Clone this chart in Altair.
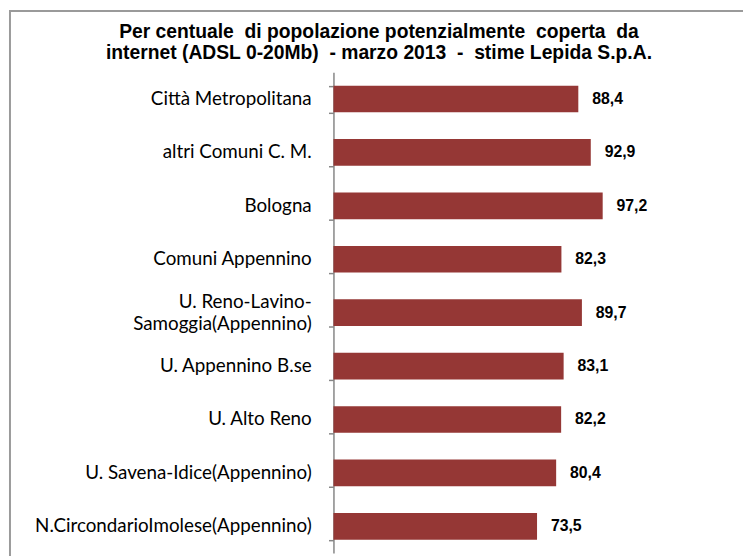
import altair as alt
import pandas as pd

categories = [
    "Città Metropolitana",
    "altri Comuni C. M.",
    "Bologna",
    "Comuni Appennino",
    "U. Reno-Lavino-|Samoggia(Appennino)",
    "U. Appennino B.se",
    "U. Alto Reno",
    "U. Savena-Idice(Appennino)",
    "N.CircondarioImolese(Appennino)",
]
values = [88.4, 92.9, 97.2, 82.3, 89.7, 83.1, 82.2, 80.4, 73.5]

NB = "\u00a0"
title_lines = [
    f"Per centuale {NB}di popolazione potenzialmente {NB}coperta {NB}da",
    f"internet (ADSL 0-20Mb) {NB}- marzo 2013 {NB}- {NB}stime Lepida S.p.A.",
]

df = pd.DataFrame({"cat": categories, "val": values})

BAR = "#953735"
AXIS = "#868686"

y_enc = alt.Y(
    "cat:N",
    sort=categories,
    title=None,
    scale=alt.Scale(paddingInner=0.5, paddingOuter=0.25),
    axis=alt.Axis(
        labels=False,
        tickBand="extent",
        tickSize=5,
        tickColor=AXIS,
        tickWidth=1.5,
        domainColor=AXIS,
        domainWidth=1.5,
        grid=False,
    ),
)
y_plain = alt.Y("cat:N", sort=categories)
x_enc = alt.X("val:Q", scale=alt.Scale(domain=[0, 100]), axis=None)

bars = alt.Chart(df).mark_bar(color=BAR).encode(x=x_enc, y=y_enc)

labels = (
    alt.Chart(df)
    .transform_calculate(lbl="replace(format(datum.val, '.1f'), '.', ',')")
    .mark_text(
        align="left",
        baseline="middle",
        dx=14,
        font="Liberation Sans",
        fontSize=16,
        fontWeight="bold",
        color="#000000",
    )
    .encode(x="val:Q", y=y_plain, text="lbl:N")
)

cat_style = dict(
    align="right",
    baseline="middle",
    font="Lato",
    fontSize=19,
    lineHeight=23,
    color="#000000",
)
cat_single = (
    alt.Chart(df)
    .transform_filter("indexof(datum.cat, '|') < 0")
    .mark_text(**cat_style)
    .encode(x=alt.value(-22), y=y_plain, text="cat:N")
)
cat_multi = (
    alt.Chart(df)
    .transform_filter("indexof(datum.cat, '|') >= 0")
    .transform_calculate(lines="split(datum.cat, '|')")
    .mark_text(dy=-11, **cat_style)
    .encode(x=alt.value(-22), y=y_plain, text="lines:N")
)

title_df = pd.DataFrame({"t": [title_lines]})
title = (
    alt.Chart(title_df)
    .mark_text(
        align="center",
        baseline="alphabetic",
        font="Liberation Sans",
        fontSize=19.5,
        fontWeight="bold",
        lineHeight=22,
        color="#000000",
    )
    .encode(x=alt.value(46), y=alt.value(-35), text="t")
)

border_df = pd.DataFrame({"k": [0]})
border = (
    alt.Chart(border_df)
    .mark_rect(fill=None, stroke="#9a9a9a", strokeWidth=2)
    .encode(
        x=alt.value(-327),
        x2=alt.value(500),
        y=alt.value(-62),
        y2=alt.value(600),
    )
)

chart = (
    alt.layer(border, title, bars, labels, cat_single, cat_multi)
    .properties(
        width=280,
        height=486,
        autosize=alt.AutoSizeParams(type="none"),
        padding={"left": 329, "top": 62, "right": 134, "bottom": 0},
    )
    .configure_view(stroke=None)
)

chart.save("out.html", embed_options={"renderer": "svg", "actions": False})
